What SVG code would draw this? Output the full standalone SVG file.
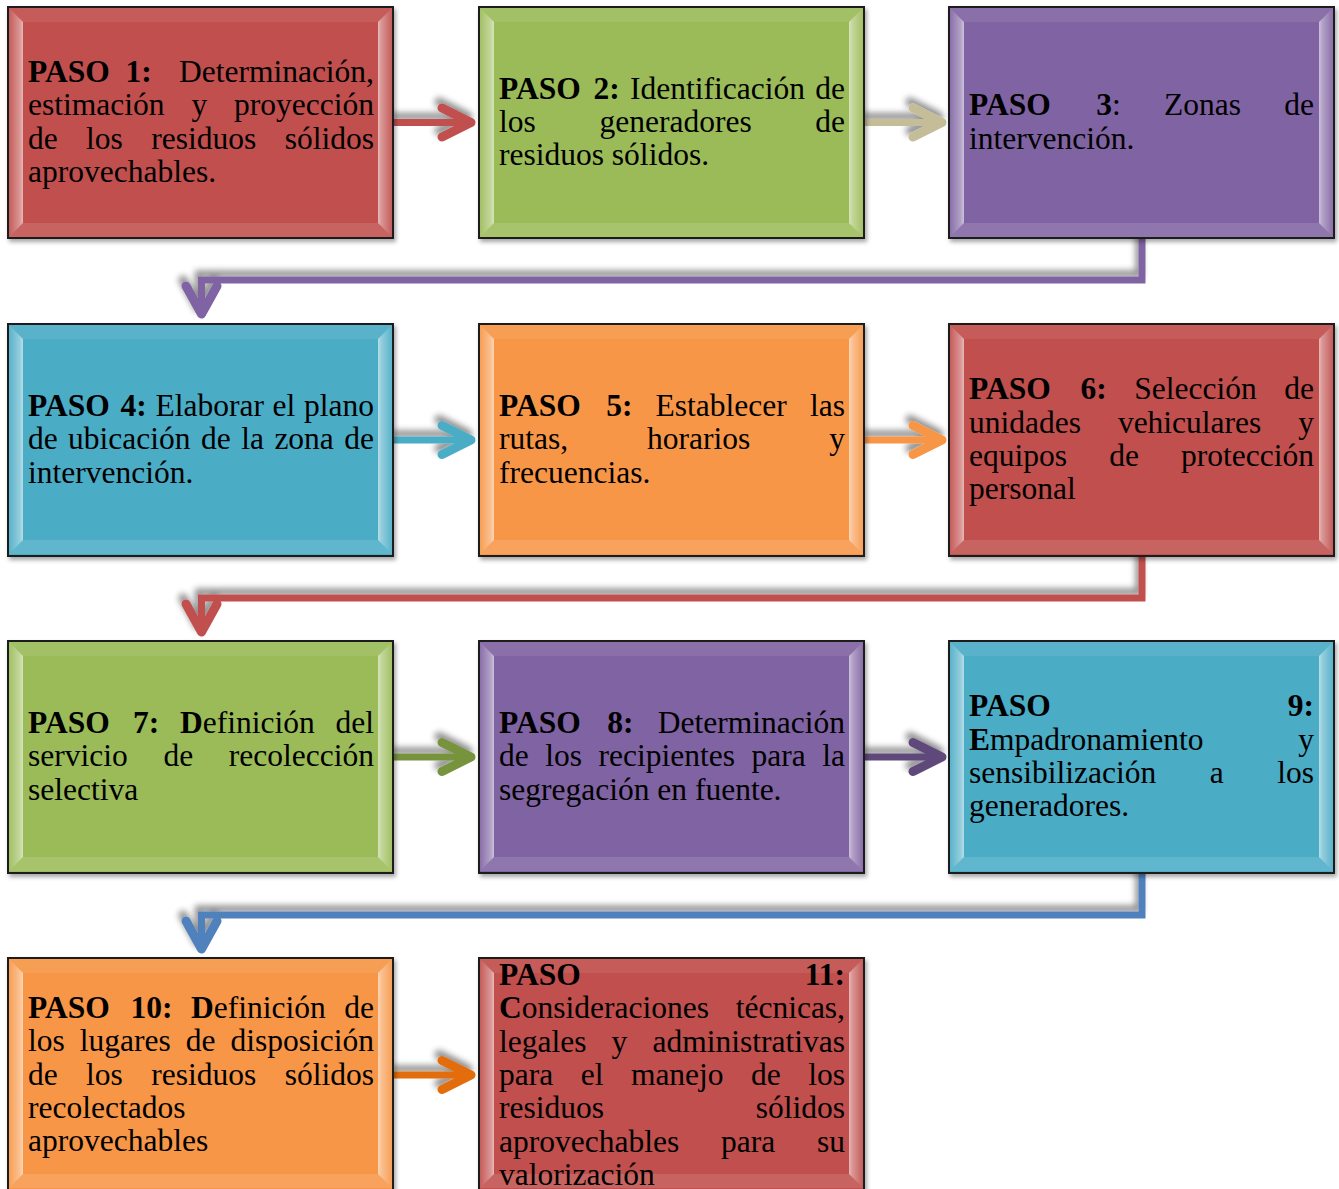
<svg xmlns="http://www.w3.org/2000/svg" xmlns:xlink="http://www.w3.org/1999/xlink" width="1339" height="1189" viewBox="0 0 1339 1189">
<style>
.t{font-family:"Liberation Serif","Times New Roman",serif;font-size:31.5px;fill:#000}
.e{text-anchor:end}
.b{font-weight:bold}
.box{stroke:#1e1e1e;stroke-width:2;filter:url(#bs)}
.red{fill:#C0504D}.green{fill:#9BBB59}.purple{fill:#8064A2}.teal{fill:#4BACC6}.orange{fill:#F79646}
.ln{fill:none;stroke-width:7;stroke-linejoin:miter}
.hd{fill:none;stroke-width:9;stroke-linecap:round;stroke-linejoin:round}
</style>
<defs>
<filter id="bs" x="-5%" y="-5%" width="112%" height="115%">
<feDropShadow dx="2" dy="3" stdDeviation="2" flood-color="#000" flood-opacity="0.35"/>
</filter>
<filter id="ash" filterUnits="userSpaceOnUse" x="0" y="0" width="1339" height="1189">
<feGaussianBlur in="SourceAlpha" stdDeviation="3"/>
<feOffset dx="-3" dy="-6"/>
<feComponentTransfer><feFuncA type="linear" slope="0.45"/></feComponentTransfer>
<feMerge><feMergeNode/><feMergeNode in="SourceGraphic"/></feMerge>
</filter>
<linearGradient id="gl" x1="0" y1="0" x2="1" y2="0">
<stop offset="0" stop-color="#fff" stop-opacity="0.08"/>
<stop offset="0.75" stop-color="#fff" stop-opacity="0.4"/>
<stop offset="1" stop-color="#fff" stop-opacity="0.6"/>
</linearGradient>
<linearGradient id="gr" x1="1" y1="0" x2="0" y2="0">
<stop offset="0" stop-color="#fff" stop-opacity="0.08"/>
<stop offset="0.75" stop-color="#fff" stop-opacity="0.4"/>
<stop offset="1" stop-color="#fff" stop-opacity="0.6"/>
</linearGradient>
<g id="bevel">
<polygon points="1,1 384,1 370,15 15,15" fill="#fff" fill-opacity="0.08"/>
<polygon points="1,230 384,230 370,216 15,216" fill="#fff" fill-opacity="0.12"/>
<polygon points="1,1 15,15 15,216 1,230" fill="url(#gl)"/>
<polygon points="384,1 370,15 370,216 384,230" fill="url(#gr)"/>
</g>
</defs>
<rect width="1339" height="1189" fill="#fff"/>

<g id="connectors" filter="url(#ash)">
<path class="ln" stroke="#C0504D" d="M394,122.5 H468"/>
<path class="hd" stroke="#C0504D" d="M442,108 L471,122.5 L442,137"/>
<path class="ln" stroke="#C4BD97" d="M865,122.5 H939"/>
<path class="hd" stroke="#C4BD97" d="M913,108 L942,122.5 L913,137"/>
<path class="ln" stroke="#8064A2" d="M1142,239 V280 H201.5 V312"/>
<path class="hd" stroke="#8064A2" d="M186,286 L201.5,314 L217,286"/>
<path class="ln" stroke="#4BACC6" d="M394,440 H468"/>
<path class="hd" stroke="#4BACC6" d="M442,425.5 L471,440 L442,454.5"/>
<path class="ln" stroke="#F79646" d="M865,440 H939"/>
<path class="hd" stroke="#F79646" d="M913,425.5 L942,440 L913,454.5"/>
<path class="ln" stroke="#C0504D" d="M1142,557 V598 H201.5 V630"/>
<path class="hd" stroke="#C0504D" d="M186,604 L201.5,632 L217,604"/>
<path class="ln" stroke="#77933C" d="M394,757 H468"/>
<path class="hd" stroke="#77933C" d="M442,742.5 L471,757 L442,771.5"/>
<path class="ln" stroke="#5F497A" d="M865,757 H939"/>
<path class="hd" stroke="#5F497A" d="M913,742.5 L942,757 L913,771.5"/>
<path class="ln" stroke="#4F81BD" d="M1142,874 V915 H201.5 V947"/>
<path class="hd" stroke="#4F81BD" d="M186,921 L201.5,949 L217,921"/>
<path class="ln" stroke="#E36C09" d="M394,1075 H468"/>
<path class="hd" stroke="#E36C09" d="M442,1060.5 L471,1075 L442,1089.5"/>
</g>

<g id="paso1">
<rect class="box red" x="8" y="7" width="385" height="231"/>
<use href="#bevel" x="8" y="7"/>
<text class="t" y="82"><tspan class="b" x="28">PASO</tspan><tspan class="b" x="125.6">1:</tspan></text>
<text class="t e" x="374" y="82">Determinación,</text>
<text class="t" y="115.3"><tspan x="28">estimación</tspan><tspan x="191.4">y</tspan></text>
<text class="t e" x="374" y="115.3">proyección</text>
<text class="t" y="148.6"><tspan x="28">de</tspan><tspan x="86.1">los</tspan><tspan x="151.3">residuos</tspan></text>
<text class="t e" x="374" y="148.6">sólidos</text>
<text class="t" x="28" y="181.9">aprovechables.</text>
</g>

<g id="paso2">
<rect class="box green" x="479" y="7" width="385" height="231"/>
<use href="#bevel" x="479" y="7"/>
<text class="t" y="98.5"><tspan class="b" x="499">PASO</tspan><tspan class="b" x="593.4">2:</tspan><tspan x="630">Identificación</tspan></text>
<text class="t e" x="845" y="98.5">de</text>
<text class="t" y="131.8"><tspan x="499">los</tspan><tspan x="599.5">generadores</tspan></text>
<text class="t e" x="845" y="131.8">de</text>
<text class="t" x="499" y="165.1">residuos sólidos.</text>
</g>

<g id="paso3">
<rect class="box purple" x="949" y="7" width="385" height="231"/>
<use href="#bevel" x="949" y="7"/>
<text class="t" y="115.2"><tspan class="b" x="969">PASO</tspan><tspan class="b" x="1096.3">3</tspan><tspan>:</tspan><tspan x="1164">Zonas</tspan></text>
<text class="t e" x="1314" y="115.2">de</text>
<text class="t" x="969" y="148.5">intervención.</text>
</g>

<g id="paso4">
<rect class="box teal" x="8" y="324" width="385" height="232"/>
<use href="#bevel" x="8" y="324"/>
<text class="t" y="416"><tspan class="b" x="28">PASO</tspan><tspan class="b" x="120.6">4:</tspan><tspan x="155.5">Elaborar</tspan><tspan x="272.6">el</tspan></text>
<text class="t e" x="374" y="416">plano</text>
<text class="t" y="449.3"><tspan x="28">de</tspan><tspan x="68.1">ubicación</tspan><tspan x="201.1">de</tspan><tspan x="241.2">la</tspan><tspan x="274.4">zona</tspan></text>
<text class="t e" x="374" y="449.3">de</text>
<text class="t" x="28" y="482.6">intervención.</text>
</g>

<g id="paso5">
<rect class="box orange" x="479" y="324" width="385" height="232"/>
<use href="#bevel" x="479" y="324"/>
<text class="t" y="416"><tspan class="b" x="499">PASO</tspan><tspan class="b" x="606.2">5:</tspan><tspan x="655.6">Establecer</tspan></text>
<text class="t e" x="845" y="416">las</text>
<text class="t" y="449.3"><tspan x="499">rutas,</tspan><tspan x="647.1">horarios</tspan></text>
<text class="t e" x="845" y="449.3">y</text>
<text class="t" x="499" y="482.6">frecuencias.</text>
</g>

<g id="paso6">
<rect class="box red" x="949" y="324" width="385" height="232"/>
<use href="#bevel" x="949" y="324"/>
<text class="t" y="399.4"><tspan class="b" x="969">PASO</tspan><tspan class="b" x="1080.5">6:</tspan><tspan x="1134.2">Selección</tspan></text>
<text class="t e" x="1314" y="399.4">de</text>
<text class="t" y="432.7"><tspan x="969">unidades</tspan><tspan x="1117.9">vehiculares</tspan></text>
<text class="t e" x="1314" y="432.7">y</text>
<text class="t" y="466"><tspan x="969">equipos</tspan><tspan x="1109.2">de</tspan></text>
<text class="t e" x="1314" y="466">protección</text>
<text class="t" x="969" y="499.3">personal</text>
</g>

<g id="paso7">
<rect class="box green" x="8" y="641" width="385" height="232"/>
<use href="#bevel" x="8" y="641"/>
<text class="t" y="733"><tspan class="b" x="28">PASO</tspan><tspan class="b" x="132.9">7:</tspan><tspan class="b" x="180">D</tspan><tspan>efinición</tspan></text>
<text class="t e" x="374" y="733">del</text>
<text class="t" y="766.3"><tspan x="28">servicio</tspan><tspan x="163.4">de</tspan></text>
<text class="t e" x="374" y="766.3">recolección</text>
<text class="t" x="28" y="799.6">selectiva</text>
</g>

<g id="paso8">
<rect class="box purple" x="479" y="641" width="385" height="232"/>
<use href="#bevel" x="479" y="641"/>
<text class="t" y="733"><tspan class="b" x="499">PASO</tspan><tspan class="b" x="607.3">8:</tspan></text>
<text class="t e" x="845" y="733">Determinación</text>
<text class="t" y="766.3"><tspan x="499">de</tspan><tspan x="545.2">los</tspan><tspan x="598.5">recipientes</tspan><tspan x="751.5">para</tspan></text>
<text class="t e" x="845" y="766.3">la</text>
<text class="t" x="499" y="799.6">segregación en fuente.</text>
</g>

<g id="paso9">
<rect class="box teal" x="949" y="641" width="385" height="232"/>
<use href="#bevel" x="949" y="641"/>
<text class="t b" x="969" y="716.4">PASO</text>
<text class="t b e" x="1314" y="716.4">9:</text>
<text class="t" y="749.7"><tspan class="b" x="969">E</tspan><tspan>mpadronamiento</tspan></text>
<text class="t e" x="1314" y="749.7">y</text>
<text class="t" y="783"><tspan x="969">sensibilización</tspan><tspan x="1209.7">a</tspan></text>
<text class="t e" x="1314" y="783">los</text>
<text class="t" x="969" y="816.3">generadores.</text>
</g>

<g id="paso10">
<rect class="box orange" x="8" y="958" width="385" height="235"/>
<use href="#bevel" x="8" y="958"/>
<text class="t" y="1018"><tspan class="b" x="28">PASO</tspan><tspan class="b" x="130.5">10:</tspan><tspan class="b" x="191">D</tspan><tspan>efinición</tspan></text>
<text class="t e" x="374" y="1018">de</text>
<text class="t" y="1051.3"><tspan x="28">los</tspan><tspan x="79.8">lugares</tspan><tspan x="185.8">de</tspan></text>
<text class="t e" x="374" y="1051.3">disposición</text>
<text class="t" y="1084.6"><tspan x="28">de</tspan><tspan x="86.1">los</tspan><tspan x="151.3">residuos</tspan></text>
<text class="t e" x="374" y="1084.6">sólidos</text>
<text class="t" x="28" y="1117.9">recolectados</text>
<text class="t" x="28" y="1151.2">aprovechables</text>
</g>

<g id="paso11">
<rect class="box red" x="479" y="958" width="385" height="235"/>
<use href="#bevel" x="479" y="958"/>
<text class="t b" x="499" y="985">PASO</text>
<text class="t b e" x="845" y="985">11:</text>
<text class="t" y="1018.3"><tspan class="b" x="499">C</tspan><tspan>onsideraciones</tspan></text>
<text class="t e" x="845" y="1018.3">técnicas,</text>
<text class="t" y="1051.6"><tspan x="499">legales</tspan><tspan x="611.5">y</tspan></text>
<text class="t e" x="845" y="1051.6">administrativas</text>
<text class="t" y="1084.9"><tspan x="499">para</tspan><tspan x="580.7">el</tspan><tspan x="630.9">manejo</tspan><tspan x="751.1">de</tspan></text>
<text class="t e" x="845" y="1084.9">los</text>
<text class="t" x="499" y="1118.2">residuos</text>
<text class="t e" x="845" y="1118.2">sólidos</text>
<text class="t" y="1151.5"><tspan x="499">aprovechables</tspan><tspan x="721">para</tspan></text>
<text class="t e" x="845" y="1151.5">su</text>
<text class="t" x="499" y="1184.8">valorización</text>
</g>
</svg>
